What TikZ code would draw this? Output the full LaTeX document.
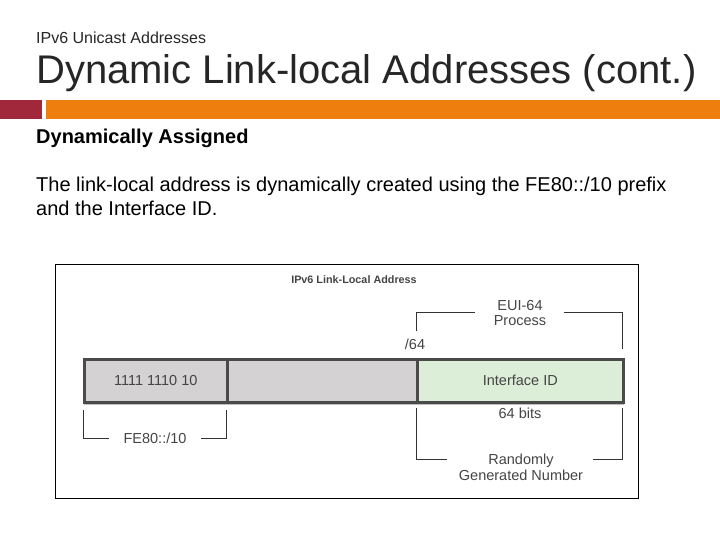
\documentclass[tikz,border=0pt]{standalone}
\usepackage{fontspec}
\setmainfont{Liberation Sans}
\definecolor{barred}{HTML}{A0283A}
\definecolor{barorange}{HTML}{EE7F0E}
\definecolor{titlegray}{HTML}{262626}
\definecolor{cellgray}{HTML}{D4D2D2}
\definecolor{cellgreen}{HTML}{DCEDD8}
\definecolor{cellborder}{HTML}{4A4A4A}
\definecolor{dtext}{HTML}{444444}
\tikzset{
  cell/.style={draw=cellborder, line width=2.6pt, inner sep=0pt, anchor=north west},
  dlabel/.style={text=dtext, font=\fontsize{14.5}{15.5}\selectfont, inner sep=0pt, align=center},
  bracket/.style={draw=black!80, line width=0.8pt},
}
\begin{document}
\begin{tikzpicture}[x=1pt,y=-1pt]
\useasboundingbox (0,0) rectangle (720,540);
% header
\node[anchor=base west, inner sep=0pt, text=titlegray, font=\fontsize{16}{19}\selectfont] (sub) at (36,44) {IPv6 Unicast Addresses};
\node[anchor=base west, inner sep=0pt, text=titlegray, font=\fontsize{40}{48}\selectfont] (title) at (36,84) {Dynamic Link-local Addresses (cont.)};
\fill[barred] (0,100) rectangle (42,119);
\fill[barorange] (46,100) rectangle (720,119);
% body
\node[anchor=base west, inner sep=0pt, font=\bfseries\fontsize{20}{24}\selectfont] (head) at (36,144) {Dynamically Assigned};
\node[anchor=base west, inner sep=0pt, font=\fontsize{20}{24}\selectfont] (l1) at (36,191.5) {The link-local address is dynamically created using the FE80::/10 prefix};
\node[anchor=base west, inner sep=0pt, font=\fontsize{20}{24}\selectfont] (l2) at (36,215.5) {and the Interface ID.};
% diagram frame
\draw[line width=1pt] (55,264) rectangle (638,498);
\node[text=dtext, inner sep=0pt, font=\bfseries\fontsize{10.8}{12}\selectfont] (dtitle) at (354,279.5) {IPv6 Link-Local Address};
% shadow
\fill[black!25] (84,403) rectangle (624,405);
% bar cells
\node[cell, fill=cellgray, minimum width=143pt, minimum height=43pt] (c1) at (83,358) {};
\node[cell, fill=cellgray, minimum width=190pt, minimum height=43pt] (c2) at (226,358) {};
\node[cell, fill=cellgreen, minimum width=206pt, minimum height=43pt] (c3) at (416,358) {};
\node[dlabel] (t1) at (c1.center) {1111 1110 10};
\node[dlabel] (t3) at (c3.center) {Interface ID};
% labels
\node[dlabel] (s64) at (415,344) {/64};
\node[dlabel] (eui) at (520,313) {EUI-64\\Process};
\node[dlabel] (bits) at (520,413) {64 bits};
\node[dlabel] (rand) at (521,467.5) {Randomly\\Generated Number};
\node[dlabel] (fe) at (155,438) {FE80::/10};
% brackets
\coordinate (e1) at (416,331); \coordinate (e2) at (416,312.5);
\coordinate (e3) at (475,312.5); \coordinate (e4) at (564,312.5);
\coordinate (e5) at (622,312.5); \coordinate (e6) at (622,349);
\draw[bracket] (e1) -- (e2) -- (e3);
\draw[bracket] (e4) -- (e5) -- (e6);
\coordinate (r1) at (416,408); \coordinate (r2) at (416,459);
\coordinate (r3) at (447,459); \coordinate (r4) at (593,459);
\coordinate (r5) at (622,459); \coordinate (r6) at (622,408);
\draw[bracket] (r1) -- (r2) -- (r3);
\draw[bracket] (r4) -- (r5) -- (r6);
\coordinate (f1) at (83.5,410); \coordinate (f2) at (83.5,438);
\coordinate (f3) at (109,438); \coordinate (f4) at (201,438);
\coordinate (f5) at (226,438); \coordinate (f6) at (226,410);
\draw[bracket] (f1) -- (f2) -- (f3);
\draw[bracket] (f4) -- (f5) -- (f6);
\end{tikzpicture}
\end{document}
